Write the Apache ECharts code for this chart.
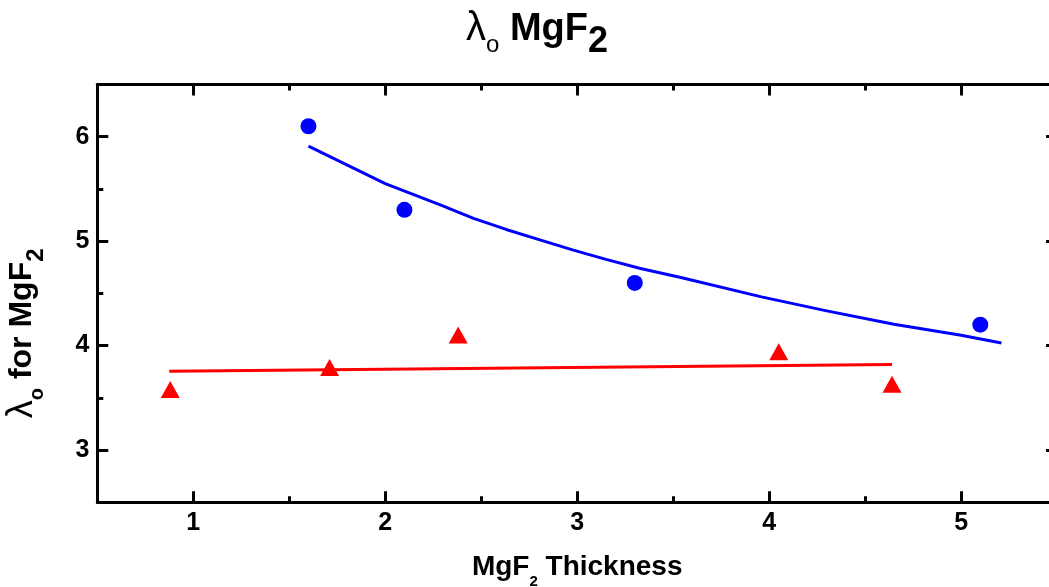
<!DOCTYPE html>
<html>
<head>
<meta charset="utf-8">
<script src="https://cdn.jsdelivr.net/npm/echarts@6/dist/echarts.min.js"></script>
<style>
html,body{margin:0;padding:0;background:#fff;}
#chart{width:1049px;height:587px;}
</style>
</head>
<body>
<div id="chart"></div>
<script>
// Measured data (MgF2 thickness vs lambda_o)
const circleX = [1.6, 2.1, 3.3, 5.1];
const circleY = [6.10, 5.30, 4.60, 4.20];
const triangleX = [0.88, 1.71, 2.38, 4.05, 4.64];
const triangleY = [3.58, 3.79, 4.10, 3.94, 3.63];
// Fit curves
const circleFitX = [1.6, 2.0, 2.29, 2.46, 2.63, 2.81, 2.98, 3.15, 3.33, 3.54, 3.96, 4.30, 4.65, 5.0, 5.21];
const circleFitY = [5.91, 5.55, 5.345, 5.218, 5.112, 5.010, 4.914, 4.825, 4.738, 4.651, 4.466, 4.332, 4.205, 4.099, 4.025];
const triangleFitX = [0.875, 4.64];
const triangleFitY = [3.754, 3.818];
// Axes
const xMin = 0.5, xMax = 5.5;
const yMin = 2.5, yMax = 6.5;
const xMajor = [1, 2, 3, 4, 5];
const xMinor = [1.5, 2.5, 3.5, 4.5];
const yMajor = [3, 4, 5, 6];
const yMinor = [3.5, 4.5, 5.5];

const zip = (a, b) => a.map((v, i) => [v, b[i]]);
const FONT = "'Liberation Sans', Arial, sans-serif";
const BLACK = '#000';

function xAx(pos, ticks, len, showLine, showLabel) {
  return {
    type: 'value', position: pos, min: xMin, max: xMax,
    axisLine: { show: showLine, onZero: false, lineStyle: { color: BLACK, width: 3 } },
    axisTick: { show: true, inside: true, length: len, customValues: ticks, lineStyle: { color: BLACK, width: 3 } },
    axisLabel: { show: showLabel, customValues: xMajor, margin: 8, color: BLACK, fontSize: 25, fontWeight: 'bold', fontFamily: FONT },
    splitLine: { show: false }, minorTick: { show: false }
  };
}
function yAx(pos, ticks, len, showLine, showLabel) {
  return {
    type: 'value', position: pos, min: yMin, max: yMax,
    axisLine: { show: showLine, onZero: false, lineStyle: { color: BLACK, width: 3 } },
    axisTick: { show: true, inside: true, length: len, customValues: ticks, lineStyle: { color: BLACK, width: 3 } },
    axisLabel: { show: showLabel, customValues: yMajor, margin: 8, color: BLACK, fontSize: 25, fontWeight: 'bold', fontFamily: FONT },
    splitLine: { show: false }, minorTick: { show: false }
  };
}
function tok(size, weight, padTop) {
  return { fontSize: size, fontWeight: weight, fontFamily: FONT, color: BLACK, verticalAlign: 'top', padding: [padTop, 0, 0, 0] };
}

const xMain = xAx('bottom', xMajor, 11, true, true);
xMain.name = '{m|MgF}{s|2}{m| Thickness}';
xMain.nameLocation = 'middle';
xMain.nameGap = 51;
xMain.nameTextStyle = {
  color: BLACK, fontFamily: FONT,
  rich: { m: tok(28, 'bold', 0), s: tok(15, 'bold', 21) }
};

const yMain = yAx('left', yMajor, 11, true, true);
yMain.name = '{l|λ}{o|o}{m| for MgF}{s|2}';
yMain.nameLocation = 'middle';
yMain.nameGap = 49;
yMain.nameTextStyle = {
  color: BLACK, fontFamily: FONT, padding: [0, 80, 0, 0],
  rich: { l: tok(36, 'normal', 0), o: tok(20, 'bold', 23.9), m: tok(32, 'bold', 2), s: tok(24, 'bold', 20.5) }
};

const option = {
  backgroundColor: '#fff',
  animation: false,
  title: {
    text: '{l|λ}{o|o}{m| MgF}{s|2}',
    left: 466, top: 9, padding: 0,
    textStyle: {
      fontFamily: FONT, color: BLACK,
      rich: { l: tok(40, 'normal', 0.3), o: tok(24, 'normal', 23.9), m: tok(38, 'bold', 2), s: tok(36, 'bold', 15.4) }
    }
  },
  grid: { left: 97.3, top: 84.5, width: 959.8, height: 417.7, containLabel: false, outerBoundsMode: 'none' },
  xAxis: [
    xMain,
    xAx('bottom', xMinor, 6, false, false),
    xAx('top', xMajor, 11, true, false),
    xAx('top', xMinor, 6, false, false)
  ],
  yAxis: [
    yMain,
    yAx('left', yMinor, 6, false, false),
    yAx('right', yMajor, 11, true, false),
    yAx('right', yMinor, 6, false, false)
  ],
  series: [
    {
      name: 'circle fit', type: 'line', data: zip(circleFitX, circleFitY),
      showSymbol: false, symbol: 'none', smooth: false,
      lineStyle: { color: '#0000ff', width: 3, opacity: 1 }, z: 2
    },
    {
      name: 'triangle fit', type: 'line', data: zip(triangleFitX, triangleFitY),
      showSymbol: false, symbol: 'none',
      lineStyle: { color: '#ff0000', width: 3, opacity: 1 }, z: 2
    },
    {
      name: 'circles', type: 'scatter', data: zip(circleX, circleY),
      symbol: 'circle', symbolSize: 16,
      itemStyle: { color: '#0000ff', opacity: 1 }, z: 3
    },
    {
      name: 'triangles', type: 'scatter', data: zip(triangleX, triangleY),
      symbol: 'triangle', symbolSize: [19, 17],
      itemStyle: { color: '#ff0000', opacity: 1 }, z: 3
    }
  ]
};

const chart = echarts.init(document.getElementById('chart'), null, { renderer: 'canvas' });
chart.setOption(option);
</script>
</body>
</html>
